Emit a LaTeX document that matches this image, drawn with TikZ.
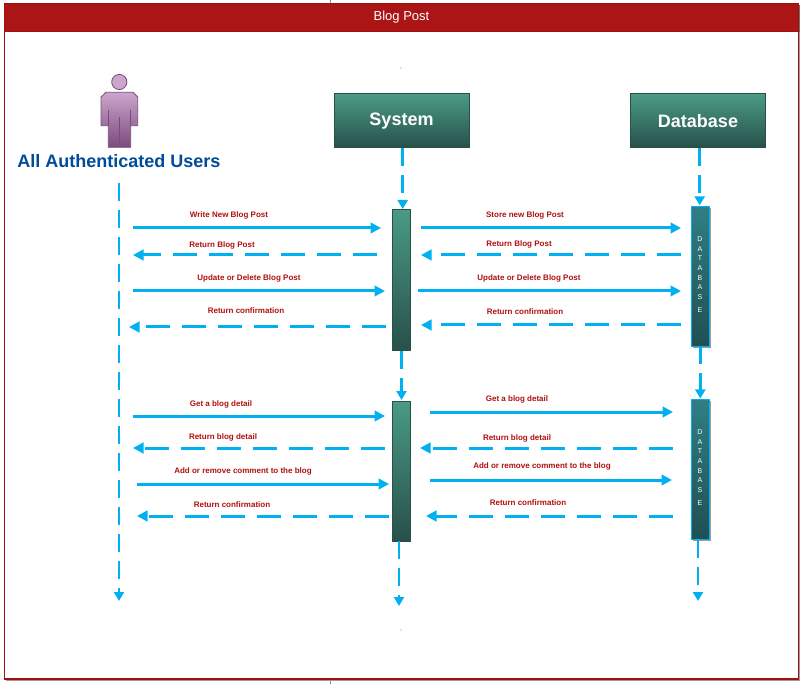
\documentclass[tikz,border=0pt]{standalone}
\usepackage{fontspec}
\setmainfont{Liberation Sans}
\usetikzlibrary{arrows.meta,shadows}
\definecolor{flowblue}{HTML}{00B0F0}
\definecolor{msgred}{HTML}{B01010}
\definecolor{framered}{HTML}{A01010}
\definecolor{headred}{HTML}{AB1515}
\definecolor{tealtop}{HTML}{4A9A85}
\definecolor{tealbot}{HTML}{27504A}
\definecolor{dbtop}{HTML}{2F7F85}
\definecolor{dbbot}{HTML}{214F52}
\definecolor{usertop}{HTML}{CBA6CB}
\definecolor{userbot}{HTML}{7A4A7C}
\tikzset{
softshadow/.style={drop shadow={shadow xshift=1.5pt,shadow yshift=-1.5pt,opacity=.55,fill=black!70}},
flat/.style={inner sep=0pt,outer sep=0pt},
headbox/.style={flat,draw=tealbot,line width=1pt,top color=tealtop,bottom color=tealbot,
	minimum width=135pt,minimum height=54pt,text=white,font=\bfseries\fontsize{18}{20}\selectfont},
sysbar/.style={flat,draw=tealbot,line width=1pt,top color=tealtop,bottom color=tealbot,minimum width=18.5pt},
dbbar/.style={flat,draw=flowblue,line width=1pt,top color=dbtop,bottom color=dbbot,minimum width=18.5pt,softshadow},
dbtext/.style={flat,text=white,align=center,font=\fontsize{7}{9.7}\selectfont},
msglabel/.style={flat,text=msgred,font=\bfseries\fontsize{8}{9}\selectfont},
callline/.style={flowblue,line width=3pt,-{Triangle[length=10.5pt,width=10.5pt]}},
backline/.style={callline,dash pattern=on 24pt off 12pt},
lifeline/.style={flowblue,line width=2.6pt,dash pattern=on 18pt off 9pt,shorten >=1pt,
	-{Triangle[length=9pt,width=10pt]}},
}
% name, x from, x to, y, line style, label x, label y, label
\newcommand{\msgline}[8]{
	\coordinate (#1from) at (#2,#4);
	\coordinate (#1to) at (#3,#4);
	\draw[#5] (#1from) -- (#1to);
	\node[msglabel] (#1label) at (#6,#7) {#8};
}

\begin{document}
\begin{tikzpicture}[x=1pt,y=-1pt]
	\useasboundingbox (0,0) rectangle (803,684);
	\fill[white] (0,0) rectangle (803,684);
	\draw[black!45,line width=.6pt] (330,0) -- (330,3) (330,681) -- (330,684);

	% frame and title
	\node[flat,draw=framered,line width=1.3pt,fill=white,softshadow,minimum width=794pt,minimum height=675.5pt] (frame) at (401.5,341.25) {};
	\node[flat,draw=framered,fill=headred,softshadow,minimum width=794pt,minimum height=27.5pt,text=white,font=\fontsize{13}{15}\selectfont] (title) at (401.5,17.25) {Blog Post};
	\fill[flowblue] (401,68) circle (.6pt) (401,630) circle (.6pt);

	% user
	\draw[draw=userbot,line width=.8pt,top color=usertop,bottom color=userbot]
		(101,97) -- (106,92.3) -- (133,92.3) -- (137.7,97) -- (137.7,125.7) -- (130.7,125.7) -- (130.7,147.3)
		-- (108.3,147.3) -- (108.3,125.7) -- (101,125.7) -- cycle;
	\draw[userbot,line width=.8pt] (108.3,110) -- (108.3,125.7) (130.7,110) -- (130.7,125.7) (119.3,116.7) -- (119.3,147.3);
	\draw[userbot,line width=.8pt,fill=usertop] (119.3,82) circle (7.6);
	\node[flat,text=blue!50!cyan!60!black,font=\bfseries\fontsize{18}{20}\selectfont] (user) at (119,161) {All Authenticated Users};

	% heads and bars
	\node[headbox] (system) at (401.5,121) {System};
	\node[headbox] (database) at (698,121) {Database};
	\node[sysbar,minimum height=141pt] (sys1) at (401.5,280.5) {};
	\node[sysbar,minimum height=140pt] (sys2) at (401.5,471) {};
	\node[dbbar,minimum height=140pt] (db1) at (700.3,276.3) {};
	\node[dbbar,minimum height=140pt] (db2) at (700.3,469.5) {};
	\node[dbtext] (db1text) at (700,274.5) {D\\A\\T\\A\\B\\A\\S\\[3pt]E};
	\node[dbtext] (db2text) at (700,467.5) {D\\A\\T\\A\\B\\A\\S\\[3pt]E};

	% lifelines
	\coordinate (usertop) at (119,183);
	\coordinate (userend) at (119,602);
	\coordinate (sysend) at (399,607);
	\coordinate (dbend) at (698,602);
	\draw[lifeline] (usertop) -- (userend);
	\draw[lifeline] ([xshift=1.2pt]system.south) -- ([xshift=1.2pt]sys1.north);
	\draw[lifeline] (sys1.south) -- (sys2.north);
	\draw[lifeline] (sys2.south -| sysend) -- (sysend);
	\draw[lifeline] ([xshift=1.7pt]database.south) -- ([xshift=-.6pt]db1.north);
	\draw[lifeline] (db1.south) -- (db2.north);
	\draw[lifeline] (db2.south -| dbend) -- (dbend);

	% user to system
	\msgline{write}{133}{381}{228}{callline}{229}{215}{Write New Blog Post}
	\msgline{ret}{377}{133}{255}{backline}{222}{245}{Return Blog Post}
	\msgline{upd}{133}{385}{291}{callline}{249}{278}{Update or Delete Blog Post}
	\msgline{conf}{386}{129}{327}{backline}{246}{311}{Return confirmation}
	\msgline{get}{133}{385}{416}{callline}{221}{404}{Get a blog detail}
	\msgline{det}{385}{133}{448}{backline}{223}{437}{Return blog detail}
	\msgline{add}{137}{389}{484}{callline}{243}{471}{Add or remove comment to the blog}
	\msgline{done}{389}{137}{516}{backline}{232}{505}{Return confirmation}

	% system to database
	\msgline{store}{421}{681}{228}{callline}{525}{215}{Store new Blog Post}
	\msgline{dbret}{681}{421}{255}{backline}{519}{244}{Return Blog Post}
	\msgline{dbupd}{418}{681}{291}{callline}{529}{278}{Update or Delete Blog Post}
	\msgline{dbconf}{681}{421}{325}{backline}{525}{312}{Return confirmation}
	\msgline{dbget}{430}{673}{412}{callline}{517}{399}{Get a blog detail}
	\msgline{dbdet}{673}{420}{448}{backline}{517}{438}{Return blog detail}
	\msgline{dbadd}{430}{672}{480}{callline}{542}{466}{Add or remove comment to the blog}
	\msgline{dbdone}{673}{426}{516}{backline}{528}{503}{Return confirmation}
\end{tikzpicture}
\end{document}
